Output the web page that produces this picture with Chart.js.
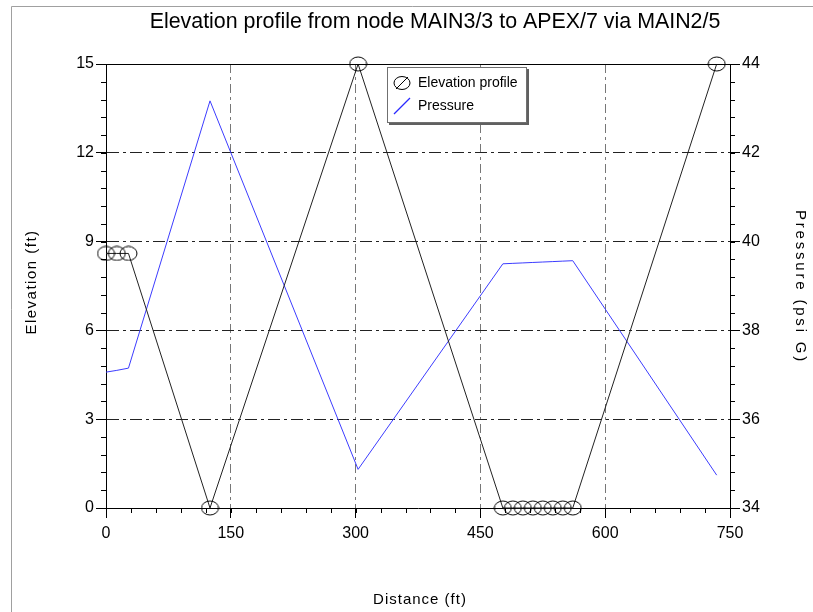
<!DOCTYPE html>
<html>
<head>
<meta charset="utf-8">
<script src="https://cdn.jsdelivr.net/npm/chart.js@4.4.0/dist/chart.umd.min.js"></script>
<style>
  html, body { margin: 0; padding: 0; background: #fff; }
  #wrap { width: 813px; height: 612px; }
</style>
</head>
<body>
<div id="wrap"><canvas id="profile"></canvas></div>
<script>
// nodes along the path
const distance = [0, 13, 27, 125, 303, 477, 489, 501, 513, 525, 537, 549, 561, 734];
const elevation = [8.6, 8.6, 8.6, 0, 15, 0, 0, 0, 0, 0, 0, 0, 0, 15];
const pressure = [37.06, 37.1, 37.15, 43.17, 34.87, 39.5, 39.51, 39.52, 39.53, 39.54, 39.55, 39.56, 39.57, 34.74];

const distanceTicks = [0, 150, 300, 450, 600, 750];
const elevationTicks = [0, 3, 6, 9, 12, 15];
const pressureTicks = [34, 36, 38, 40, 42, 44];

const FONT = "'Liberation Sans', Arial, sans-serif";
const ELEV_COLOR = "#222";
const PRES_COLOR = "#3c3cff";

// open ellipse used as node marker
const ring = document.createElement("canvas");
ring.width = 19;
ring.height = 16;
let rc = ring.getContext("2d");
rc.strokeStyle = "#000";
rc.lineWidth = 1;
rc.beginPath();
rc.ellipse(9.5, 8, 8.5, 7, 0, 0, Math.PI * 2);
rc.stroke();

function pin(list) {
  return function (scale) {
    scale.ticks = list.map((v) => ({ value: v }));
  };
}

// frame, minor ticks, axis titles, title and legend box
const decorations = {
  id: "decorations",
  afterDraw(chart) {
    const ctx = chart.ctx;
    const a = chart.chartArea;
    const sx = chart.scales.x, sy = chart.scales.y, sy1 = chart.scales.y1;
    ctx.save();

    // outer frame
    ctx.strokeStyle = "#a0a0a0";
    ctx.lineWidth = 1;
    ctx.beginPath();
    ctx.moveTo(11.5, 612);
    ctx.lineTo(11.5, 6.5);
    ctx.lineTo(813, 6.5);
    ctx.stroke();

    // top edge of the plot
    ctx.strokeStyle = "#000";
    ctx.beginPath();
    ctx.moveTo(a.left, Math.round(a.top) + 0.5);
    ctx.lineTo(a.right, Math.round(a.top) + 0.5);
    ctx.stroke();

    // minor ticks
    ctx.beginPath();
    for (let v = 0; v <= 750; v += 30) {
      const px = Math.round(sx.getPixelForValue(v)) + 0.5;
      ctx.moveTo(px, a.bottom);
      ctx.lineTo(px, a.bottom + 5);
    }
    for (let v = 0; v <= 15.001; v += 0.6) {
      const py = Math.round(sy.getPixelForValue(v)) + 0.5;
      ctx.moveTo(a.left, py);
      ctx.lineTo(a.left - 5, py);
    }
    for (let v = 34; v <= 44.001; v += 0.4) {
      const py = Math.round(sy1.getPixelForValue(v)) + 0.5;
      ctx.moveTo(a.right, py);
      ctx.lineTo(a.right + 5, py);
    }
    ctx.stroke();

    // titles
    ctx.fillStyle = "#000";
    ctx.textAlign = "center";
    ctx.textBaseline = "middle";
    ctx.font = "21.4px " + FONT;
    ctx.fillText("Elevation profile from node MAIN3/3 to APEX/7 via MAIN2/5", 435, 22);

    ctx.save();
    ctx.font = "15px " + FONT;
    ctx.letterSpacing = "1px";
    ctx.fillText("Distance (ft)", 420, 600);
    ctx.restore();

    ctx.save();
    ctx.font = "15px " + FONT;
    ctx.letterSpacing = "1.5px";
    ctx.translate(32, 282);
    ctx.rotate(-Math.PI / 2);
    ctx.fillText("Elevation (ft)", 0, 0);
    ctx.restore();

    ctx.save();
    ctx.font = "15px " + FONT;
    ctx.letterSpacing = "2.8px";
    ctx.translate(800, 287);
    ctx.rotate(Math.PI / 2);
    ctx.fillText("Pressure (psi G)", 0, 0);
    ctx.restore();

    // legend
    const ds = chart.data.datasets;
    const bx = a.left + 281, by = a.top + 3, bw = 140, bh = 56;
    ctx.fillStyle = "#606060";
    ctx.fillRect(bx + 2, by + 2, bw, bh);
    ctx.fillStyle = "#fff";
    ctx.fillRect(bx, by, bw, bh);
    ctx.strokeStyle = "#707070";
    ctx.strokeRect(bx + 0.5, by + 0.5, bw - 1, bh - 1);

    ctx.strokeStyle = "#000";
    ctx.beginPath();
    ctx.ellipse(bx + 15, by + 16, 8, 6.5, 0, 0, Math.PI * 2);
    ctx.moveTo(bx + 9, by + 22);
    ctx.lineTo(bx + 21, by + 10);
    ctx.stroke();

    ctx.strokeStyle = "#2a2aff";
    ctx.lineWidth = 1.3;
    ctx.beginPath();
    ctx.moveTo(bx + 7, by + 47);
    ctx.lineTo(bx + 23, by + 31);
    ctx.stroke();
    ctx.lineWidth = 1;

    ctx.fillStyle = "#000";
    ctx.textAlign = "left";
    ctx.font = "14px " + FONT;
    ctx.fillText(ds[0].label, bx + 31, by + 16);
    ctx.fillText(ds[1].label, bx + 31, by + 39);

    ctx.restore();
  },
};

new Chart(document.getElementById("profile"), {
  type: "scatter",
  data: {
    datasets: [
      {
        label: "Elevation profile",
        data: distance.map((d, i) => ({ x: d, y: elevation[i] })),
        yAxisID: "y",
        showLine: true,
        borderColor: ELEV_COLOR,
        borderWidth: 1,
        pointStyle: ring,
        pointRadius: 8,
        clip: false,
      },
      {
        label: "Pressure",
        data: distance.map((d, i) => ({ x: d, y: pressure[i] })),
        yAxisID: "y1",
        showLine: true,
        borderColor: PRES_COLOR,
        borderWidth: 1,
        pointRadius: 0,
      },
    ],
  },
  options: {
    responsive: true,
    maintainAspectRatio: false,
    animation: false,
    events: [],
    layout: { padding: { top: 64, left: 0, right: 0, bottom: 0 } },
    plugins: {
      legend: { display: false },
      tooltip: { enabled: false },
      title: { display: false },
    },
    scales: {
      x: {
        type: "linear",
        min: 0,
        max: 750,
        afterBuildTicks: pin(distanceTicks),
        afterFit: (s) => { s.height = 104; },
        ticks: { font: { family: FONT, size: 16 }, color: "#000", padding: 6, maxRotation: 0 },
        grid: {
          color: (c) => (c.tick && (c.tick.value === 0 || c.tick.value === 750) ? "transparent" : "#777"),
          tickColor: "#000",
          tickLength: 10,
        },
        border: { color: "#000", width: 1, dash: [9, 4, 3, 4] },
      },
      y: {
        position: "left",
        min: 0,
        max: 15,
        afterBuildTicks: pin(elevationTicks),
        afterFit: (s) => { s.width = 106; },
        ticks: { font: { family: FONT, size: 16 }, color: "#000", padding: 2 },
        grid: {
          color: (c) => (c.tick && (c.tick.value === 0 || c.tick.value === 15) ? "transparent" : "#222"),
          tickColor: "#000",
          tickLength: 10,
        },
        border: { color: "#000", width: 1, dash: [12, 4, 3, 4] },
      },
      y1: {
        position: "right",
        min: 34,
        max: 44,
        afterBuildTicks: pin(pressureTicks),
        afterFit: (s) => { s.width = 83; },
        ticks: { font: { family: FONT, size: 16 }, color: "#000", padding: 2 },
        grid: { drawOnChartArea: false, tickColor: "#000", tickLength: 10 },
        border: { color: "#000", width: 1 },
      },
    },
  },
  plugins: [decorations],
});
</script>
</body>
</html>
